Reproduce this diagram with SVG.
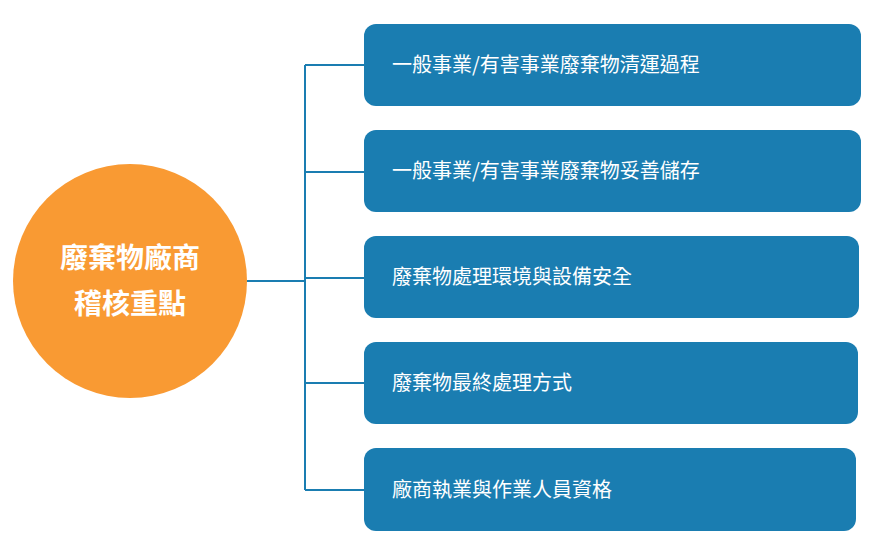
<svg xmlns="http://www.w3.org/2000/svg" width="896" height="557" viewBox="0 0 896 557">
<style>
.box{fill:#1a7db1}
.t{fill:#fff;font-family:"Noto Sans CJK TC","Noto Sans CJK SC",sans-serif;font-size:20px}
.c{fill:#fff;font-family:"Noto Sans CJK TC","Noto Sans CJK SC",sans-serif;font-size:28px;font-weight:bold;text-anchor:middle}
.ln{stroke:#1a7db1;stroke-width:2;fill:none}
</style>
<rect width="896" height="557" fill="#fff"/>
<g id="connectors">
<path class="ln" d="M247 281H305M305 65V490M305 65H364M305 172H364M305 278H364M305 383H364M305 490H364"/>
</g>
<g id="center">
<circle cx="130" cy="281" r="117" fill="#f99a33"/>
<text class="c" x="130" y="268">廢棄物廠商</text>
<text class="c" x="130" y="314">稽核重點</text>
</g>
<g id="n1"><rect class="box" x="364" y="24" width="497" height="82" rx="12"/><text class="t" x="392" y="72">一般事業/有害事業廢棄物清運過程</text></g>
<g id="n2"><rect class="box" x="364" y="130" width="497" height="82" rx="12"/><text class="t" x="392" y="178">一般事業/有害事業廢棄物妥善儲存</text></g>
<g id="n3"><rect class="box" x="364" y="236" width="495" height="82" rx="12"/><text class="t" x="392" y="284">廢棄物處理環境與設備安全</text></g>
<g id="n4"><rect class="box" x="364" y="342" width="494" height="82" rx="12"/><text class="t" x="392" y="390">廢棄物最終處理方式</text></g>
<g id="n5"><rect class="box" x="364" y="448" width="492" height="83" rx="12"/><text class="t" x="392" y="497">廠商執業與作業人員資格</text></g>
</svg>
